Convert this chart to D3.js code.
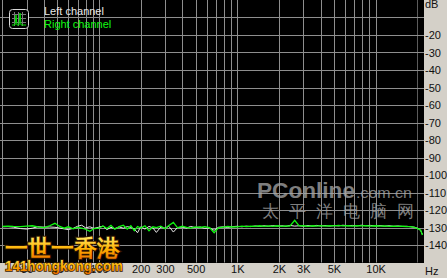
<!DOCTYPE html>
<html>
<head>
<meta charset="utf-8">
<script src="https://cdn.jsdelivr.net/npm/d3@7"></script>
<style>
html, body { margin: 0; padding: 0; background: #000; overflow: hidden; }
svg { display: block; }
text { font-family: "Liberation Sans", Arial, sans-serif; }
</style>
</head>
<body>
<svg id="chart" width="447" height="278"></svg>
<script>
// frequency points (Hz) of the measured curves
var freqs = [20, 22, 24, 27, 30, 33, 36, 40, 44, 48, 52, 56, 60, 65, 70, 75, 80, 86, 92, 100,
  107, 114, 122, 130, 140, 150, 160, 170, 180, 190, 200, 215, 230, 245, 260, 280, 300, 320, 345, 370,
  400, 430, 460, 500, 540, 580, 630, 680, 730, 790, 850, 920, 1000, 1080, 1160, 1250, 1350, 1450, 1560, 1680,
  1800, 1950, 2100, 2250, 2400, 2600, 2800, 3000, 3250, 3500, 3750, 4000, 4300, 4650, 5000, 5400, 5800, 6300, 6800, 7300,
  7900, 8500, 9200, 10000, 10800, 11600, 12500, 13500, 14500, 15600, 16800, 18000, 19000, 19800, 20500, 21200, 21800];

var leftDb = [-129.6, -129.5, -129.8, -130.6, -130.9, -130.4, -129.6, -129.8, -129.7, -129.9, -130.3, -130.8, -131.2, -130.5, -129.3, -128.7, -130.2, -129.6, -130.5, -129.8,
  -129.2, -131.2, -129.9, -130.6, -129.7, -130.4, -129.5, -130.0, -130.8, -133.0, -129.6, -130.9, -129.4, -130.2, -132.8, -129.7, -130.4, -129.3, -132.6, -130.0,
  -129.8, -130.3, -129.4, -130.1, -129.7, -130.5, -130.2, -131.6, -129.9, -129.6, -130.0, -129.5, -129.3, -129.6, -129.2, -129.5, -129.1, -129.4, -129.0, -129.3,
  -128.9, -129.2, -129.0, -129.3, -128.8, -129.2, -129.0, -129.3, -128.9, -129.2, -128.8, -129.1, -128.9, -129.2, -128.9, -129.1, -128.7, -129.0, -128.8, -129.1,
  -128.7, -129.0, -128.8, -129.1, -128.9, -129.2, -129.0, -129.3, -129.1, -129.4, -129.3, -129.6, -129.8, -130.2, -130.8, -131.8, -134.0];

var rightDb = [-129.3, -129.2, -129.4, -129.5, -129.2, -129.0, -129.6, -130.1, -129.0, -127.6, -129.4, -130.4, -129.6, -130.8, -130.0, -130.3, -131.0, -132.2, -130.6, -130.4,
  -129.1, -130.6, -128.8, -131.0, -129.5, -128.7, -130.9, -129.0, -131.8, -129.4, -130.3, -129.0, -131.9, -129.6, -130.1, -129.2, -130.7, -128.8, -127.1, -130.2,
  -129.3, -129.9, -130.4, -129.6, -130.0, -129.5, -130.1, -133.0, -130.2, -129.8, -129.4, -129.7, -129.6, -129.2, -129.5, -129.3, -129.4, -129.0, -129.3, -129.1,
  -129.4, -129.0, -129.3, -129.1, -129.2, -125.9, -129.1, -129.0, -129.3, -129.0, -129.2, -128.9, -129.2, -129.0, -129.1, -128.8, -129.1, -129.0, -129.2, -128.9,
  -129.1, -129.0, -129.2, -129.0, -129.2, -129.1, -129.3, -129.2, -129.4, -129.3, -129.5, -129.5, -129.9, -130.3, -130.9, -131.6, -134.3];

// grid and ticks
var gridFreqs = [20, 30, 40, 50, 60, 70, 80, 90, 100, 200, 300, 400, 500, 600, 700, 800, 900,
  1000, 2000, 3000, 4000, 5000, 6000, 7000, 8000, 9000, 10000, 20000];
var gridDb = [-10, -20, -30, -40, -50, -60, -70, -80, -90, -100, -110, -120, -130, -140];
var dbTicks = [-20, -30, -40, -50, -60, -70, -80, -90, -100, -110, -120, -130, -140];
var freqTicks = [30, 50, 100, 200, 300, 500, 1000, 2000, 3000, 5000, 10000];
var freqLabels = ["30", "50", "100", "200", "300", "500", "1K", "2K", "3K", "5K", "10K"];
var seriesNames = ["Left channel", "Right channel"];
var seriesColors = ["#e8e8e8", "#10f810"];

var W = 447, H = 278, plotW = 424, plotH = 262.5;
var panel = "#d4d0c8";
var svg = d3.select("#chart");

var x = d3.scaleLog().domain([19.24, 22390]).range([0, plotW]);
var y = d3.scaleLinear().domain([0, -150]).range([0, plotH]);
var px = v => Math.round(v) + 0.5;

svg.append("rect").attr("width", W).attr("height", H).attr("fill", "#000");

// grid
var grid = svg.append("g");
grid.selectAll("line.v").data(gridFreqs).join("line").classed("v", true)
  .attr("x1", d => px(x(d))).attr("x2", d => px(x(d)))
  .attr("y1", 0).attr("y2", plotH)
  .attr("stroke", d => d == 20000 ? "#5c5c5c" : "#8e8e8e");
grid.selectAll("line.h").data(gridDb).join("line").classed("h", true)
  .attr("x1", 0).attr("x2", plotW)
  .attr("y1", d => px(y(d))).attr("y2", d => px(y(d)))
  .attr("stroke", "#8e8e8e");

// PConline watermark
var wm = svg.append("g").attr("fill", "#a8a8a8").attr("opacity", 0.75);
wm.append("text").attr("x", 257).attr("y", 198).attr("font-size", 22).attr("font-weight", "bold")
  .attr("font-family", "DejaVu Sans").attr("textLength", 98).attr("lengthAdjust", "spacingAndGlyphs")
  .text("PConline");
wm.append("text").attr("x", 356).attr("y", 198).attr("font-size", 14)
  .attr("font-family", "DejaVu Sans").attr("textLength", 56).attr("lengthAdjust", "spacingAndGlyphs")
  .text(".com.cn");
wm.append("text").attr("x", 262).attr("y", 217).attr("font-size", 17)
  .attr("font-family", "Noto Sans CJK SC").attr("textLength", 152).attr("lengthAdjust", "spacing")
  .text("太平洋电脑网");

// curves
var line = d3.line().x(d => x(d[0])).y(d => y(d[1]));
[leftDb, rightDb].forEach(function(vals, i) {
  svg.append("path")
    .datum(freqs.map((f, j) => [f, vals[j]]))
    .attr("d", line)
    .attr("fill", "none")
    .attr("stroke", seriesColors[i])
    .attr("stroke-width", i == 1 ? 1.3 : 1);
});

// side panels
svg.append("rect").attr("x", plotW).attr("y", 0).attr("width", W - plotW).attr("height", H).attr("fill", panel);
svg.append("rect").attr("x", 0).attr("y", Math.ceil(plotH)).attr("width", W).attr("height", H - Math.ceil(plotH)).attr("fill", panel);

// right axis
var yAxis = svg.append("g").attr("transform", "translate(" + plotW + ",0)")
  .call(d3.axisRight(y).tickValues(dbTicks).tickSize(0).tickPadding(1).tickFormat(d => d));
yAxis.select(".domain").remove();
yAxis.selectAll("text").attr("font-size", 11).attr("fill", "#111")
  .attr("font-family", "Liberation Sans");
svg.append("text").attr("x", 425).attr("y", 8).attr("font-size", 11).attr("fill", "#111").text("dB");

// bottom axis
var xAxis = svg.append("g").attr("transform", "translate(0," + Math.ceil(plotH) + ")")
  .call(d3.axisBottom(x).tickValues(freqTicks).tickSize(0).tickPadding(2).tickFormat((d, i) => freqLabels[i]));
xAxis.select(".domain").remove();
xAxis.selectAll("text").attr("font-size", 11).attr("fill", "#111")
  .attr("font-family", "Liberation Sans");
svg.append("text").attr("x", 425).attr("y", 275).attr("font-size", 11).attr("fill", "#111").text("Hz");

// legend icon
var icon = svg.append("g");
icon.append("rect").attr("x", 9.5).attr("y", 9.5).attr("width", 19).attr("height", 19).attr("rx", 3)
  .attr("fill", "#000").attr("stroke", "#d8d8d8");
[14.5, 18.5, 22.5].forEach(function(v) {
  icon.append("line").attr("x1", v).attr("x2", v).attr("y1", 12).attr("y2", 26).attr("stroke", "#777");
  icon.append("line").attr("x1", 12).attr("x2", 26).attr("y1", v).attr("y2", v).attr("stroke", "#777");
});
icon.append("path").attr("d", "M12,25 L15,25 L16,15 L17,25 L19,25 L20,13 L21,25 L26,25")
  .attr("fill", "none").attr("stroke", "#00e000");

// legend text
svg.selectAll("text.legend").data(seriesNames).join("text").classed("legend", true)
  .attr("x", 44).attr("y", (d, i) => 15 + i * 13)
  .attr("font-size", 11).attr("fill", (d, i) => seriesColors[i])
  .text(d => d);

// hongkong watermark
var defs = svg.append("defs");
var grad = defs.append("linearGradient").attr("id", "hk").attr("x1", 0).attr("y1", 0).attr("x2", 0).attr("y2", 1);
grad.append("stop").attr("offset", "0%").attr("stop-color", "#fff070");
grad.append("stop").attr("offset", "55%").attr("stop-color", "#ffb000");
grad.append("stop").attr("offset", "100%").attr("stop-color", "#e86a00");
svg.append("text").attr("x", 5).attr("y", 256).attr("font-size", 23).attr("font-weight", "bold")
  .attr("font-family", "Noto Sans CJK SC").attr("textLength", 115).attr("lengthAdjust", "spacingAndGlyphs")
  .attr("fill", "url(#hk)").attr("stroke", "#2a1400").attr("stroke-width", 2).attr("paint-order", "stroke")
  .text("一世一香港");
svg.append("text").attr("x", 5).attr("y", 271).attr("font-size", 15).attr("font-weight", "bold")
  .attr("font-family", "Liberation Sans").attr("textLength", 118).attr("lengthAdjust", "spacingAndGlyphs")
  .attr("fill", "url(#hk)").attr("stroke", "#3a2000").attr("stroke-width", 1.6).attr("paint-order", "stroke")
  .text("141hongkong.com");
</script>
</body>
</html>
